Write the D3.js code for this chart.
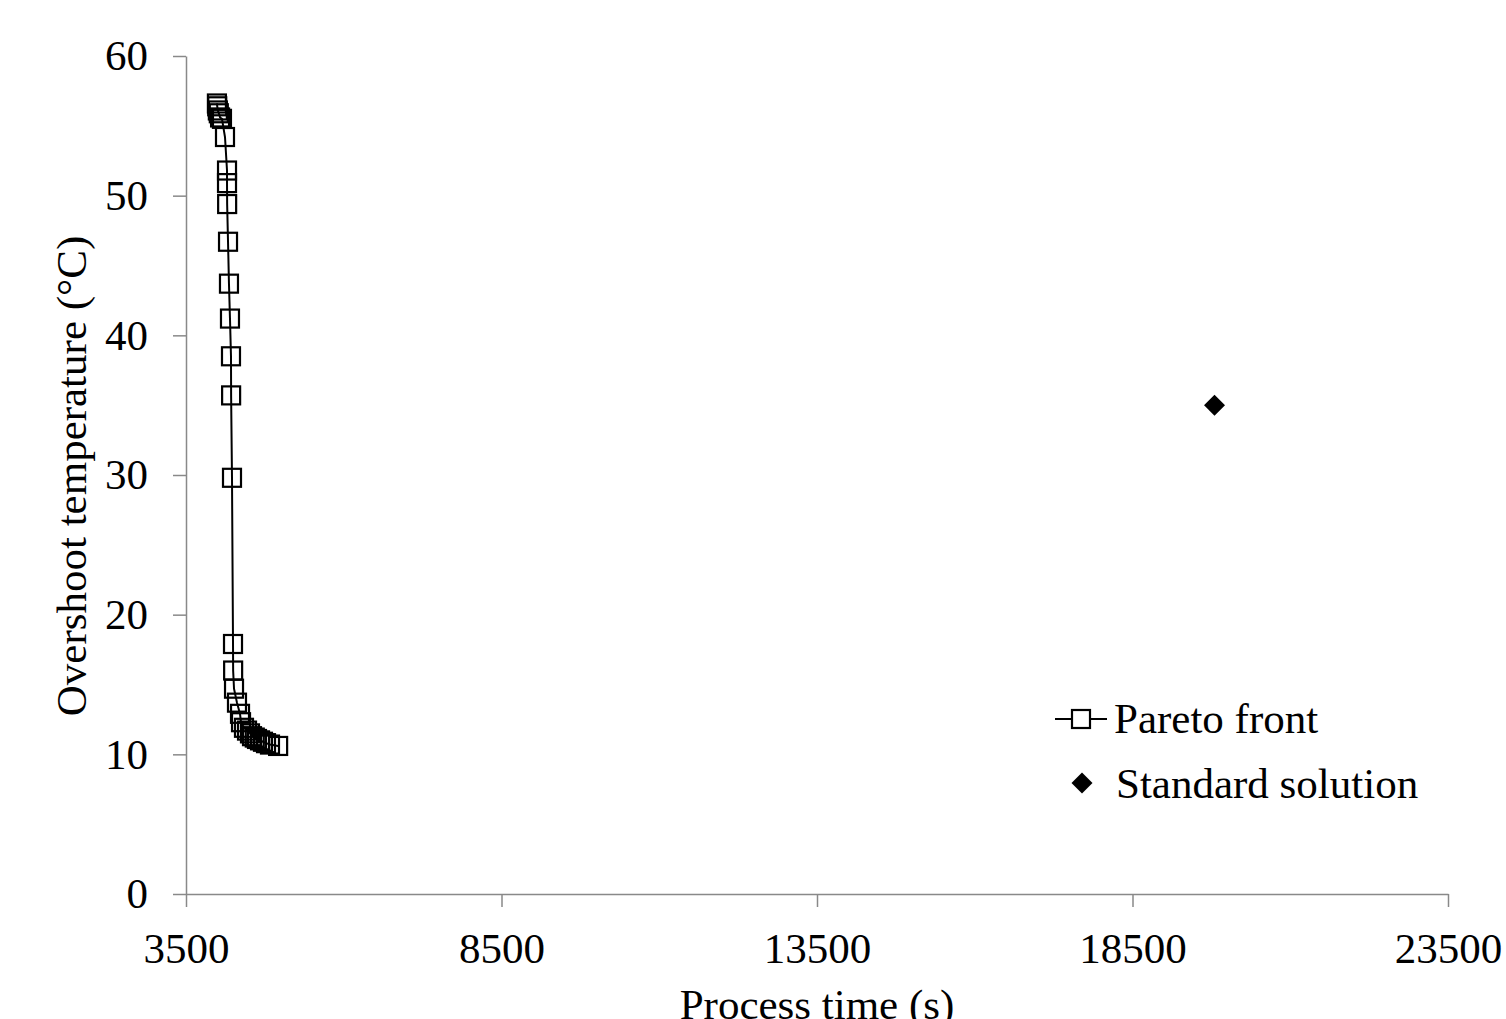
<!DOCTYPE html>
<head>
<meta charset="UTF-8">
<title>Pareto front vs standard solution</title>
<script type="text/javascript" src="https://cdnjs.cloudflare.com/ajax/libs/d3/7.8.5/d3.min.js"></script>
<style>
body
{
margin:0;
background:white;
}

text
{
font-family:"Liberation Serif", "Times New Roman", serif;
font-size:43px;
fill:black;
}

.axis path, .axis line
{
stroke:#898989;
stroke-width:1.5px;
}
</style>
</head>

<body>
<div id="chart"></div>

<script type="text/javascript">
var width=1506;
var height=1019;

// values
var paretoTime=[3990,3995,4005,4020,4040,4070,4118,4150,4150,4152,4166,4181,4197,4213,4215,4229,4245,4247,4261,4308,4356,4372,4419,4467,4514,4546,4590,4625,4673,4720,4768,4831,4960];
var paretoTemp=[56.6,56.4,56.1,55.9,55.6,55.5,54.2,51.8,50.9,49.4,46.7,43.7,41.2,38.5,35.7,29.8,17.9,16.0,14.7,13.7,12.9,12.3,11.9,11.7,11.5,11.3,11.2,11.1,11.0,10.9,10.8,10.7,10.6];
var standardTime=[19800];
var standardTemp=[35.0];
var xTicks=[3500,8500,13500,18500,23500];
var yTicks=[0,10,20,30,40,50,60];
var seriesNames=["Pareto front","Standard solution"];

var svg=d3.select("#chart").append("svg").attr("width",width).attr("height",height);

var x=d3.scaleLinear().domain([3500,23500]).range([186,1448]);
var y=d3.scaleLinear().domain([0,60]).range([894,56]);

svg.append("g")
  .attr("class","axis")
  .attr("transform","translate(186,0)")
  .call(d3.axisLeft(y).tickValues(yTicks).tickSize(13).tickSizeOuter(0).tickPadding(25).tickFormat(d3.format("d")));

svg.append("g")
  .attr("class","axis")
  .attr("transform","translate(0,894)")
  .call(d3.axisBottom(x).tickValues(xTicks).tickSize(13).tickSizeOuter(0).tickPadding(25).tickFormat(d3.format("d")));

svg.selectAll(".axis").attr("font-size",null).attr("font-family",null); //let the css font win

// axis titles
svg.append("text")
  .attr("transform","rotate(-90)")
  .attr("x",-476)
  .attr("y",86)
  .attr("text-anchor","middle")
  .text("Overshoot temperature (\u00B0C)");

svg.append("text")
  .attr("x",817)
  .attr("y",1019)
  .attr("text-anchor","middle")
  .text("Process time (s)");

var pareto=paretoTime.map(function(t,i){return {t:t,v:paretoTemp[i]};});
var standard=standardTime.map(function(t,i){return {t:t,v:standardTemp[i]};});

var line=d3.line().x(function(d){return x(d.t);}).y(function(d){return y(d.v);});

svg.append("path")
  .datum(pareto)
  .attr("d",line)
  .attr("fill","none")
  .attr("stroke","black")
  .attr("stroke-width",2);

var sq=18;
svg.selectAll(".pt").data(pareto).enter().append("rect")
  .attr("class","pt")
  .attr("x",function(d){return x(d.t)-sq/2;})
  .attr("y",function(d){return y(d.v)-sq/2;})
  .attr("width",sq)
  .attr("height",sq)
  .attr("fill","none")
  .attr("stroke","black")
  .attr("stroke-width",2.2);

var diamond=d3.symbol().type(d3.symbolSquare).size(220);
svg.selectAll(".std").data(standard).enter().append("path")
  .attr("class","std")
  .attr("transform",function(d){return "translate("+x(d.t)+","+y(d.v)+") rotate(45)";})
  .attr("d",diamond)
  .attr("fill","black");

// legend
var leg=svg.append("g").attr("transform","translate(1081,0)");
leg.append("line").attr("x1",-26).attr("x2",26).attr("y1",719).attr("y2",719).attr("stroke","black").attr("stroke-width",2);
leg.append("rect").attr("x",-sq/2).attr("y",719-sq/2).attr("width",sq).attr("height",sq).attr("fill","white").attr("stroke","black").attr("stroke-width",2.2);
leg.append("text").attr("x",33).attr("y",733).text(seriesNames[0]);
leg.append("path").attr("transform","translate(1,783) rotate(45)").attr("d",diamond).attr("fill","black");
leg.append("text").attr("x",35).attr("y",798).text(seriesNames[1]);
</script>
</body>
</html>
